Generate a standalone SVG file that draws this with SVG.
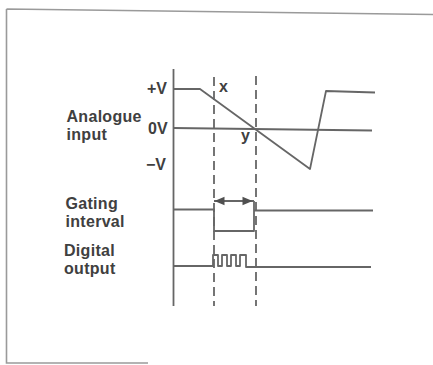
<svg xmlns="http://www.w3.org/2000/svg" width="433" height="365" viewBox="0 0 433 365">
<style>
.ln{fill:none;stroke:#666;stroke-width:1.8;stroke-linejoin:round;stroke-linecap:butt}
.fr{fill:none;stroke:#9a9a9a;stroke-width:1.6}
.ds{fill:none;stroke:#666;stroke-width:1.8;stroke-dasharray:9 5}
.lb{font-family:"Liberation Sans",Arial,Helvetica,sans-serif;font-weight:bold;font-size:16px;fill:#404040;letter-spacing:0.3px}
.sm{font-family:"Liberation Sans",Arial,Helvetica,sans-serif;font-weight:bold;font-size:16px;fill:#404040}
.ah{fill:#505050;stroke:none}
</style>
<rect width="433" height="365" fill="#fff"/>
<g id="frame">
<path class="fr" d="M6.5 9 L433 14.5 M6.5 9 V363 H148"/>
</g>
<g id="axis">
<line class="ln" x1="173.5" y1="69" x2="173.5" y2="306"/>
<line class="ln" x1="173.5" y1="128" x2="372" y2="130.5"/>
</g>
<g id="connectors">
<line class="ds" x1="214" y1="77" x2="214" y2="306"/>
<line class="ds" x1="256" y1="76" x2="256" y2="306"/>
<path id="analogue-wave" class="ln" d="M173.5 89 H200 L310 169 L326 91 L375 92.5"/>
<path id="gating-wave" class="ln" d="M173.5 209.5 H214 V231 H254 V201 M254 210.5 H373"/>
<line class="ln" x1="214" y1="201" x2="254" y2="201"/>
<path class="ah" d="M214.5 201 L224.5 196.8 L224.5 205.2 Z"/>
<path class="ah" d="M252.5 201 L242.5 196.8 L242.5 205.2 Z"/>
<path id="digital-wave" class="ln" d="M173.5 266 H213 V255 H218 V266 H222 V255 H227 V266 H231 V255 H236 V266 H240 V255 H246 V267 H371"/>
</g>
<g id="labels">
<text class="sm" x="147" y="94">+V</text>
<text class="sm" x="148" y="133.5">0V</text>
<text class="sm" x="146" y="170">−V</text>
<text class="sm" x="219" y="92">x</text>
<text class="sm" x="241" y="141">y</text>
<text class="lb" x="66.5" y="122">Analogue</text>
<text class="lb" x="66.5" y="139.5">input</text>
<text class="lb" x="65.5" y="209">Gating</text>
<text class="lb" x="65.5" y="227">interval</text>
<text class="lb" x="64" y="256">Digital</text>
<text class="lb" x="64" y="274">output</text>
</g>
</svg>
